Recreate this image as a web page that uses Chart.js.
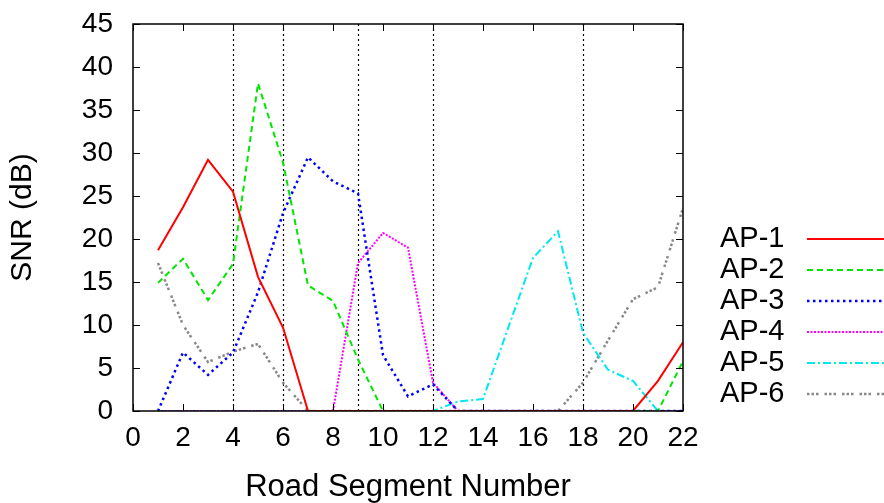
<!DOCTYPE html>
<html>
<head>
<meta charset="utf-8">
<script src="https://cdn.jsdelivr.net/npm/chart.js@4.4.1/dist/chart.umd.min.js"></script>
<style>
  html, body { margin: 0; padding: 0; background: #fff; }
</style>
</head>
<body>
<canvas id="snr" width="884" height="503"></canvas>
<script>
// data
const segments = [1, 2, 3, 4, 5, 6, 7, 8, 9, 10, 11, 12, 13, 14, 15, 16, 17, 18, 19, 20, 21, 22];
const ap1 = [18.7, 23.7, 29.2, 25.5, 15.6, 9.7, 0, 0, 0, 0, 0, 0, 0, 0, 0, 0, 0, 0, 0, 0, 3.5, 8.0];
const ap2 = [14.9, 17.7, 12.9, 17.1, 38.1, 28.9, 14.6, 12.8, 6.0, 0, 0, 0, 0, 0, 0, 0, 0, 0, 0, 0, 0, 5.8];
const ap3 = [0, 6.8, 4.2, 6.8, 13.8, 23.0, 29.5, 26.7, 25.3, 6.5, 1.7, 3.1, 0, 0, 0, 0, 0, 0, 0, 0, 0, 0];
const ap4 = [0, 0, 0, 0, 0, 0, 0, 0, 17.2, 20.7, 19.0, 3.3, 0, 0, 0, 0, 0, 0, 0, 0, 0, 0];
const ap5 = [0, 0, 0, 0, 0, 0, 0, 0, 0, 0, 0, 0, 1.1, 1.4, 9.6, 17.8, 20.9, 9.1, 4.8, 3.5, 0, 0];
const ap6 = [17.2, 10.0, 5.7, 6.9, 7.8, 3.3, 0, 0, 0, 0, 0, 0, 0, 0, 0, 0, 0, 3.3, 8.2, 13.0, 14.4, 23.6];
const apNames = ['AP-1', 'AP-2', 'AP-3', 'AP-4', 'AP-5', 'AP-6'];
const apPositions = [4, 6, 9, 12, 18];   // dotted vertical markers

const FONT = '"Liberation Sans", Arial, sans-serif';

const styles = [
  { color: '#ff0000', dash: [],               width: 2 },
  { color: '#00e600', dash: [6, 4],           width: 2 },
  { color: '#0000ff', dash: [2.5, 3.5],       width: 2.5 },
  { color: '#ff00ff', dash: [2, 1.5],         width: 2 },
  { color: '#00e8f0', dash: [8, 3, 2, 3],     width: 2 },
  { color: '#888888', dash: [2.5, 2, 2.5, 2, 2.5, 6], width: 2.5 },
];

const series = [ap1, ap2, ap3, ap4, ap5, ap6];
const datasets = series.map((vals, i) => ({
  label: apNames[i],
  data: segments.map((x, j) => ({ x: x, y: vals[j] })),
  borderColor: styles[i].color,
  borderDash: styles[i].dash,
  borderWidth: styles[i].width,
  borderCapStyle: 'butt',
  pointRadius: 0,
  tension: 0,
  fill: false,
}));

const framePlugin = {
  id: 'frame',
  beforeDatasetsDraw(chart) {
    const { ctx, chartArea: { top, bottom }, scales: { x } } = chart;
    ctx.save();
    ctx.strokeStyle = '#000';
    ctx.lineWidth = 1.2;
    ctx.setLineDash([2, 3]);
    apPositions.forEach(p => {
      const px = Math.round(x.getPixelForValue(p)) + 0.5;
      ctx.beginPath(); ctx.moveTo(px, bottom); ctx.lineTo(px, top); ctx.stroke();
    });
    ctx.restore();
  },
  afterDraw(chart) {
    const { ctx, chartArea: { left, right, top, bottom }, scales: { x, y } } = chart;
    ctx.save();
    ctx.strokeStyle = '#000';
    ctx.lineWidth = 1.5;
    ctx.setLineDash([]);
    ctx.strokeRect(left, top, right - left, bottom - top);
    // inward ticks, mirrored on top and right
    const tl = 7;
    ctx.lineWidth = 1;
    y.ticks.forEach(t => {
      const py = Math.round(y.getPixelForValue(t.value)) + 0.5;
      ctx.beginPath();
      ctx.moveTo(left, py); ctx.lineTo(left + tl, py);
      ctx.moveTo(right, py); ctx.lineTo(right - tl, py);
      ctx.stroke();
    });
    x.ticks.forEach(t => {
      const px = Math.round(x.getPixelForValue(t.value)) + 0.5;
      ctx.beginPath();
      ctx.moveTo(px, bottom); ctx.lineTo(px, bottom - tl);
      ctx.moveTo(px, top); ctx.lineTo(px, top + tl);
      ctx.stroke();
    });
    // legend on the right
    ctx.font = '29px ' + FONT;
    ctx.textBaseline = 'middle';
    ctx.textAlign = 'left';
    ctx.fillStyle = '#000';
    chart.data.datasets.forEach((ds, i) => {
      const ly = 239 + i * 31;
      ctx.fillText(ds.label, 720, ly);
      ctx.strokeStyle = ds.borderColor;
      ctx.lineWidth = ds.borderWidth;
      ctx.setLineDash(ds.borderDash);
      ctx.beginPath(); ctx.moveTo(807, ly); ctx.lineTo(884, ly); ctx.stroke();
    });
    ctx.restore();
  }
};

new Chart(document.getElementById('snr'), {
  type: 'line',
  data: { datasets },
  options: {
    responsive: false,
    animation: false,
    devicePixelRatio: 1,
    layout: { padding: { top: 24, right: 201, left: 0, bottom: 0 } },
    plugins: { legend: { display: false }, tooltip: { enabled: false } },
    scales: {
      x: {
        type: 'linear', min: 0, max: 22,
        afterFit: s => { s.height = 92; s.paddingLeft = 0; s.paddingRight = 0; },
        grid: { display: false, drawTicks: false },
        border: { display: false },
        ticks: { stepSize: 2, padding: 10, color: '#000', font: { family: FONT, size: 28 } },
        title: { display: true, text: 'Road Segment Number', color: '#000',
                 padding: { top: 0, bottom: 0 }, font: { family: FONT, size: 31, lineHeight: 1.0 } },
      },
      y: {
        min: 0, max: 45,
        afterFit: s => { s.width = 133; s.paddingTop = 0; s.paddingBottom = 0; },
        grid: { display: false, drawTicks: false },
        border: { display: false },
        ticks: { stepSize: 5, padding: 20, color: '#000', font: { family: FONT, size: 28 } },
        title: { display: true, text: 'SNR (dB)', color: '#000',
                 padding: { top: 5, bottom: 0 }, font: { family: FONT, size: 30 } },
      },
    },
  },
  plugins: [framePlugin],
});
</script>
</body>
</html>
